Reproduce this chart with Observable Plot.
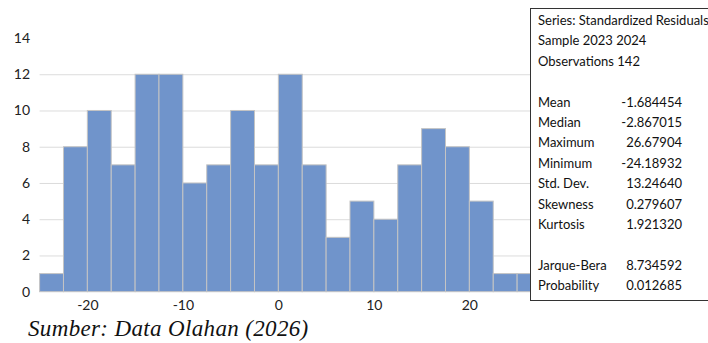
<!DOCTYPE html>
<html>
<head>
<meta charset="utf-8">
<script src="https://cdn.jsdelivr.net/npm/d3@7"></script>
<script src="https://cdn.jsdelivr.net/npm/@observablehq/plot@0.6"></script>
<style>
  html, body { margin: 0; padding: 0; background: #fff; overflow: hidden; }
  #wrap { position: relative; width: 708px; height: 343px; overflow: hidden; }
  #chart svg { display: block; }
  #stats {
    position: absolute; left: 530px; top: 8px; width: 200px; height: 293px;
    border: 1px solid #333; background: #fff; box-sizing: border-box;
    font-family: Lato, "Open Sans", sans-serif; font-size: 13px; color: #111;
    padding-top: 1px;
  }
  #stats .row { position: relative; height: 20.4px; line-height: 20.4px; white-space: nowrap; }
  #stats .lab { position: absolute; left: 7px; }
  #stats .val { position: absolute; right: 47px; }
  #caption {
    position: absolute; left: 28px; top: 315.7px;
    font-family: "Liberation Serif", "Times New Roman", serif; font-style: italic;
    font-size: 23px; line-height: 26px; letter-spacing: 0.35px; color: #111; white-space: nowrap;
  }
</style>
</head>
<body>
<div id="wrap">
  <div id="chart"></div>
  <div id="stats"></div>
  <div id="caption"></div>
</div>
<script>
// Histogram bins (lower/upper edges) and counts
const binLower = [-25, -22.5, -20, -17.5, -15, -12.5, -10, -7.5, -5, -2.5, 0, 2.5, 5, 7.5, 10, 12.5, 15, 17.5, 20, 22.5, 25];
const binUpper = [-22.5, -20, -17.5, -15, -12.5, -10, -7.5, -5, -2.5, 0, 2.5, 5, 7.5, 10, 12.5, 15, 17.5, 20, 22.5, 25, 27.5];
const counts   = [1, 8, 10, 7, 12, 12, 6, 7, 10, 7, 12, 7, 3, 5, 4, 7, 9, 8, 5, 1, 1];

const xTicks = [-20, -10, 0, 10, 20];
const yTicks = [0, 2, 4, 6, 8, 10, 12, 14];
const yGrid  = [2, 4, 6, 8, 10, 12];

const headerLines = ["Series: Standardized Residuals", "Sample 2023 2024", "Observations 142"];
const statNames  = ["Mean", "Median", "Maximum", "Minimum", "Std. Dev.", "Skewness", "Kurtosis"];
const statValues = ["-1.684454", "-2.867015", "26.67904", "-24.18932", "13.24640", "0.279607", "1.921320"];
const testNames  = ["Jarque-Bera", "Probability"];
const testValues = ["8.734592", "0.012685"];

const captionText = "Sumber: Data Olahan (2026)";

const bins = binLower.map((lo, i) => ({lo, hi: binUpper[i], n: counts[i]}));

const chart = Plot.plot({
  width: 708,
  height: 313,
  marginLeft: 39.6,
  marginRight: 167,
  marginTop: 38,
  marginBottom: 21.3,
  style: {fontFamily: "Lato, 'Open Sans', sans-serif", fontSize: "14px", color: "#222", background: "#fff"},
  x: {domain: [-25, 27.5], ticks: xTicks, tickSize: 0, tickPadding: 8, tickFormat: d => String(d), label: null},
  y: {domain: [0, 14], ticks: yTicks, tickSize: 0, tickPadding: 10, label: null},
  marks: [
    Plot.ruleY(yGrid, {stroke: "#dcdcdc", strokeWidth: 1}),
    Plot.rectY(bins, {x1: "lo", x2: "hi", y1: 0, y2: "n", fill: "#7094CB", stroke: "#c4c4c4", strokeWidth: 1, inset: 0})
  ]
});
document.getElementById("chart").appendChild(chart);

// stats box
const stats = document.getElementById("stats");
function addRow(lab, val) {
  const r = document.createElement("div");
  r.className = "row";
  if (lab) { const l = document.createElement("span"); l.className = "lab"; l.textContent = lab; r.appendChild(l); }
  if (val) { const v = document.createElement("span"); v.className = "val"; v.textContent = val; r.appendChild(v); }
  stats.appendChild(r);
}
headerLines.forEach(h => addRow(h, null));
addRow(null, null);
statNames.forEach((s, i) => addRow(s, statValues[i]));
addRow(null, null);
testNames.forEach((s, i) => addRow(s, testValues[i]));

document.getElementById("caption").textContent = captionText;
</script>
</body>
</html>
